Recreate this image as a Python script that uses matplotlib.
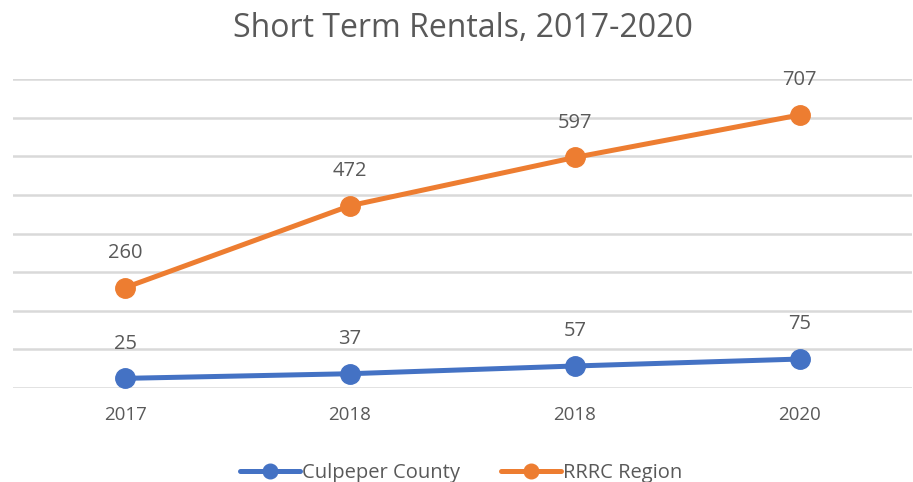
import matplotlib.pyplot as plt

# data
years = ['2017', '2018', '2018', '2020']
culpeper = [25, 37, 57, 75]
rrrc = [260, 472, 597, 707]

txt = '#595959'
plt.rcParams['font.family'] = ['Open Sans', 'DejaVu Sans']

fig = plt.figure(figsize=(9.13, 4.82), dpi=100)
ax = fig.add_axes([0.014, 0.195, 0.985, 0.641])

x = range(len(years))
ax.plot(x, culpeper, color='#4472C4', lw=3.6, marker='o', ms=14,
        label='Culpeper County', solid_capstyle='round')
ax.plot(x, rrrc, color='#ED7D31', lw=3.6, marker='o', ms=14,
        label='RRRC Region', solid_capstyle='round')

# value labels above points
for vals in (culpeper, rrrc):
    for i, v in enumerate(vals):
        ax.annotate(str(v), (i, v), xytext=(0, 25), textcoords='offset points',
                    ha='center', va='center', fontsize=14.5, color=txt)

ax.set_xlim(-0.5, 3.5)
ax.set_ylim(0, 800)
ax.set_yticks(range(0, 801, 100))
ax.yaxis.grid(True, color='#D9D9D9', lw=1.8)
ax.set_axisbelow(True)
ax.tick_params(axis='y', left=False, labelleft=False)
ax.set_xticks(list(x))
ax.set_xticklabels(years, fontsize=13.5, color=txt)
ax.tick_params(axis='x', length=0, pad=13)
for s in ax.spines.values():
    s.set_visible(False)

fig.suptitle('Short Term Rentals, 2017-2020', x=0.507, y=0.975, fontsize=23, color=txt)
fig.legend(loc='lower center', bbox_to_anchor=(0.505, -0.04), ncol=2, frameon=False,
           fontsize=14.5, labelcolor=txt, handlelength=3.0, handletextpad=0.1,
           columnspacing=2.0, markerscale=0.75)

fig.savefig('out.png', dpi=100)
